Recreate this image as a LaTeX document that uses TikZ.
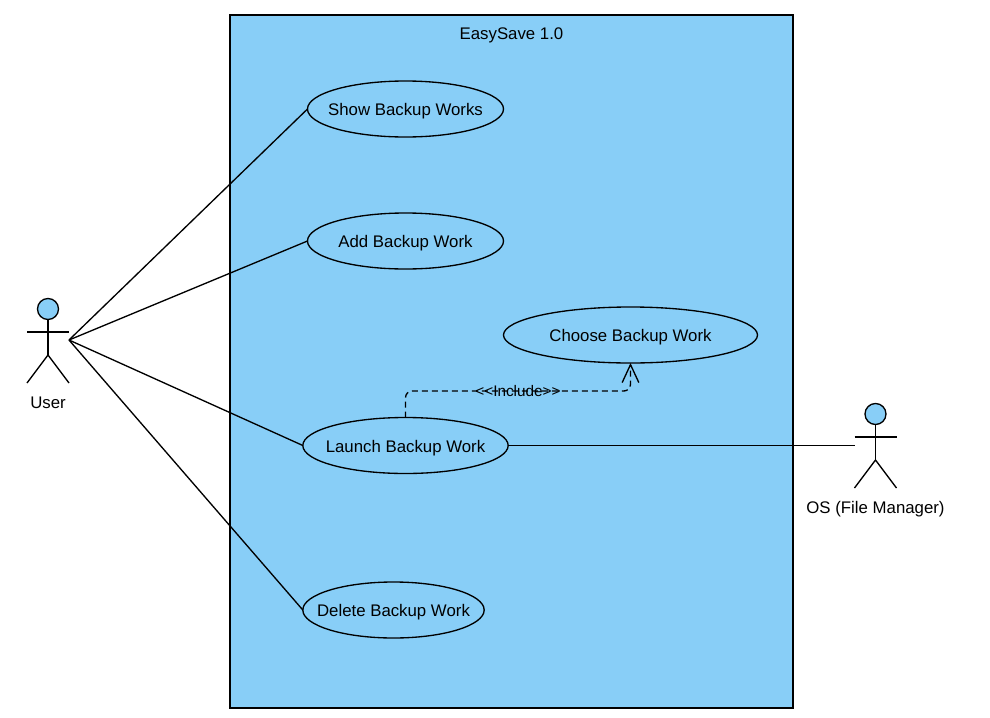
\documentclass[tikz,border=0pt]{standalone}
\usepackage{fontspec}
\usepackage{tikz}
\usetikzlibrary{arrows.meta,shapes.geometric}
\setmainfont{Liberation Sans}
\definecolor{skyfill}{HTML}{88CEF7}
\newcommand{\uctext}[1]{\makebox[0pt]{#1}}

\tikzset{
  every node/.style={font=\fontsize{12.6pt}{15pt}\selectfont},
  outline/.style={line width=1pt},
  usecase/.style={draw, ellipse, fill=skyfill, outline, inner sep=0pt, outer sep=0pt, minimum height=42pt, text height=9.75pt, text depth=0pt},
  actorhead/.style={draw, circle, fill=skyfill, outline, inner sep=0pt, outer sep=0pt, minimum size=15.75pt},
  actorname/.style={inner sep=0pt, text height=9.75pt, text depth=0pt},
  stick/.pic={
    \draw [outline] (0,10.5) -- (0,46);
    \draw [outline] (-21,23) -- (21,23);
    \draw [outline] (-21,74) -- (0,46) -- (21,74);
  }
}

\begin{document}
\begin{tikzpicture}[x=0.75pt, y=-0.75pt]
  \useasboundingbox (0,0) rectangle (990,718);

  % system boundary
  \node [draw, outline, fill=skyfill, anchor=north west, minimum width=422.25pt, minimum height=519.75pt, inner sep=0pt, outer sep=0pt] (boundary) at (230,15) {};
  \node [actorname] (title) at (511.5,33) {EasySave 1.0};

  % use cases
  \node [usecase, minimum width=147pt]    (show)   at (405.5,109) {\uctext{Show Backup Works}};
  \node [usecase, minimum width=147pt]    (add)    at (405.5,241) {\uctext{Add Backup Work}};
  \node [usecase, minimum width=190.5pt]  (choose) at (630.5,335) {\uctext{Choose Backup Work}};
  \node [usecase, minimum width=154pt]    (launch) at (405.5,445.5) {\uctext{Launch Backup Work}};
  \node [usecase, minimum width=136pt]    (delete) at (393.5,610) {\uctext{Delete Backup Work}};

  % actors
  \pic at (48,309) {stick};
  \node [actorhead] (userhead) at (48,309) {};
  \node [actorname] (user) at (48,402) {User};
  \coordinate (userport) at (69,340);

  \pic at (875.5,414) {stick};
  \node [actorhead] (oshead) at (875.5,414) {};
  \node [actorname] (os) at (875.5,507) {OS (File Manager)};
  \coordinate (osport) at (855,445.5);

  % associations
  \draw [outline] (userport) -- (show.west);
  \draw [outline] (userport) -- (add.west);
  \draw [outline] (userport) -- (launch.west);
  \draw [outline] (userport) -- (delete.west);
  \draw [outline] (launch.east) -- (osport);

  % include
  \coordinate (includebend) at (630.5,391);
  \draw [outline, dash pattern=on 4.5pt off 3pt, rounded corners=5pt, -{Straight Barb[length=13.5pt, width=12.5pt]}]
    (launch.north) |- (includebend) -- (choose.south);
  \node [inner sep=0pt, font=\fontsize{11.5pt}{13pt}\selectfont] (include) at (518,391) {{<}{<}Include{>}{>}};
\end{tikzpicture}
\end{document}
